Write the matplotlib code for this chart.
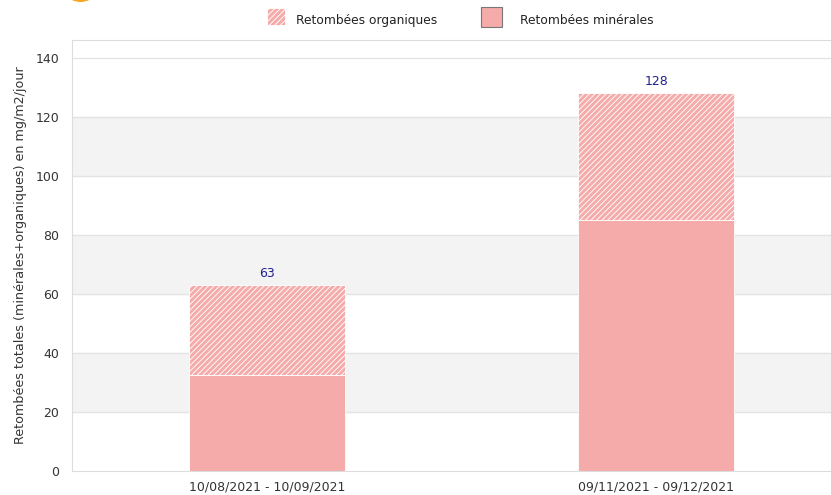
import matplotlib.pyplot as plt
from matplotlib.patches import Rectangle, Ellipse

# Data
periodes = ['10/08/2021 - 10/09/2021', '09/11/2021 - 09/12/2021']
minerales = [32.5, 85]
organiques = [30.5, 43]
totaux = [63, 128]

rose = '#f4abaa'
plt.rcParams['hatch.linewidth'] = 0.65
plt.rcParams['font.family'] = 'DejaVu Sans'

fig = plt.figure(figsize=(8.31, 4.95), dpi=100)
ax = fig.add_axes([0.0866, 0.0485, 0.9374, 0.8707])

# alternating bands + grid lines
for y0 in [20, 60, 100]:
    ax.axhspan(y0, y0 + 20, color='#f3f3f3', zorder=0)
for y in range(20, 141, 20):
    ax.axhline(y, color='#e3e3e3', lw=0.9, zorder=0.5)

x = range(len(periodes))
ax.bar(x, minerales, width=0.4, color=rose, edgecolor='white', linewidth=0.6, zorder=2)
ax.bar(x, organiques, width=0.4, bottom=minerales, color=rose, edgecolor='white',
       hatch='//////', linewidth=0.6, zorder=2)

for i, t in enumerate(totaux):
    ax.text(i, t + 1.8, str(t), ha='center', va='bottom', fontsize=9, color='#1f1f8f')

ax.set_xlim(-0.5, 1.5)
ax.set_ylim(0, 146)
ax.set_yticks(range(0, 141, 20))
ax.set_xticks(list(x))
ax.set_xticklabels(periodes)
ax.tick_params(length=0, labelsize=9, colors='#333333')
ax.tick_params(axis='x', pad=7)
ax.tick_params(axis='y', pad=9)
ax.set_ylabel('Retombées totales (minérales+organiques) en mg/m2/jour', fontsize=9.2,
              color='#333333')
ax.yaxis.set_label_coords(-0.058, 0.5)
for s in ax.spines.values():
    s.set_color('#dddddd')
    s.set_linewidth(0.8)

# legend (drawn by hand to match the original layout)
fig.add_artist(Rectangle((0.3213, 0.9495), 0.0217, 0.0343, transform=fig.transFigure,
                         facecolor=rose, edgecolor='white', hatch='//////', linewidth=0.6))
fig.text(0.3562, 0.9576, 'Retombées organiques', fontsize=8.8, va='center', color='#222222')
fig.add_artist(Rectangle((0.5788, 0.9455), 0.0253, 0.0404, transform=fig.transFigure,
                         facecolor=rose, edgecolor='#777777', linewidth=0.8))
fig.text(0.6258, 0.9576, 'Retombées minérales', fontsize=8.8, va='center', color='#222222')

# bit of logo cut off at the top left
fig.add_artist(Ellipse((0.0969, 1.012), 0.031, 0.032, transform=fig.transFigure,
                       facecolor='#f5a623', edgecolor='none'))

fig.savefig('out.png', dpi=100)
